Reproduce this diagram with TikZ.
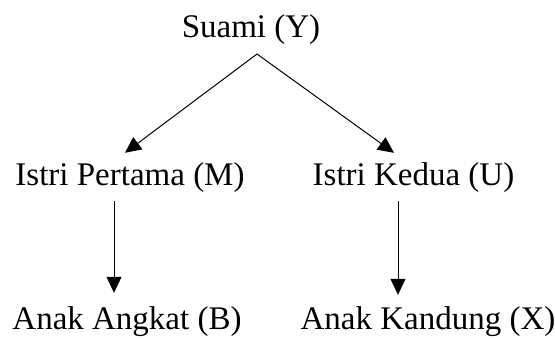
\documentclass[tikz,border=0pt]{standalone}
\usepackage{fontspec}
\setmainfont{Liberation Serif}
\usetikzlibrary{arrows.meta,positioning}
\tikzset{
  person/.style={font=\fontsize{33}{40}\selectfont, anchor=base, inner xsep=0pt,
    inner ysep=9pt, text height=23pt, text depth=7pt},
  link/.style={-{Triangle[length=16pt,width=15pt]}, line width=1pt}
}
\begin{document}
\begin{tikzpicture}[x=1pt,y=-1pt]
\useasboundingbox (0,0) rectangle (555,338);
% keluarga
\node[person] (suami) at (251,37) {Suami (Y)};
\node[person] (istri1) at (130,185) {Istri Pertama (M)};
\node[person] (istri2) at (413.5,185) {Istri Kedua (U)};
\node[person] (anak1) at (127,329) {Anak Angkat (B)};
\node[person] (anak2) at (428,329) {Anak Kandung (X)};
\coordinate (fork) at (257,54);
% garis
\draw[link] (fork) -- ([xshift=-5pt]istri1.north);
\draw[link] (fork) -- ([xshift=-19.5pt]istri2.north);
\draw[link,shorten >=4pt] ([xshift=-16pt]istri1.south) -- ([xshift=-13pt]anak1.north);
\draw[link,shorten >=2pt] ([xshift=-15.5pt]istri2.south) -- ([xshift=-30pt]anak2.north);
\end{tikzpicture}
\end{document}
